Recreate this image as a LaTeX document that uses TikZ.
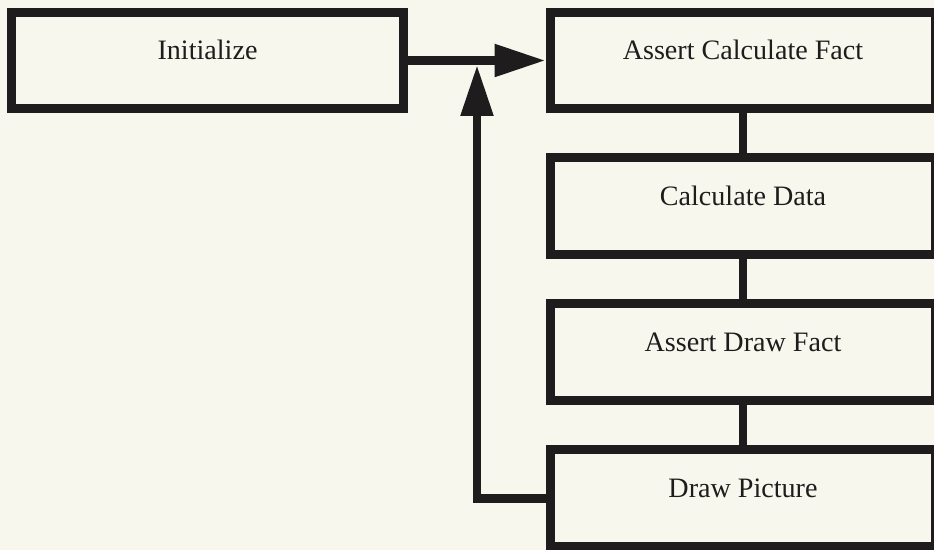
\documentclass[tikz,border=0pt]{standalone}
\usepackage{fontspec}
\setmainfont{Liberation Serif}
\usetikzlibrary{positioning,arrows.meta}
\definecolor{paper}{RGB}{247,247,237}
\definecolor{ink}{RGB}{30,28,28}

\begin{document}
\begin{tikzpicture}[x=0.02cm,y=-0.02cm,node distance=2.92cm,on grid,
	box/.style={draw=ink,line width=0.18cm,fill=paper,minimum width=7.72cm,minimum height=1.94cm,
		text height=0.37cm,text depth=0.42cm,font=\fontsize{16}{19}\selectfont,text=ink},
	link/.style={draw=ink,line width=0.17cm},
	head/.style={-{Triangle[length=1.02cm,width=0.62cm]}}]
	\fill[paper] (0,0) rectangle (934,550);
	\useasboundingbox (0,0) rectangle (934,550);

	\node[box,minimum width=7.84cm] (init) at (207.5,60.5) {Initialize};
	\node[box] (calcfact) at (743,60.5) {Assert Calculate Fact};
	\node[box] (calcdata) [below=of calcfact] {Calculate Data};
	\node[box] (drawfact) [below=of calcdata] {Assert Draw Fact};
	\node[box] (drawpic) [below=of drawfact] {Draw Picture};
	\coordinate (join) at (477,65);

	\path[link]
	(calcfact) edge (calcdata)
	(calcdata) edge (drawfact)
	(drawfact) edge (drawpic);
	\draw[link,head] (init) -- (calcfact);
	\draw[link,head] (drawpic.west) -| (join);
\end{tikzpicture}
\end{document}
